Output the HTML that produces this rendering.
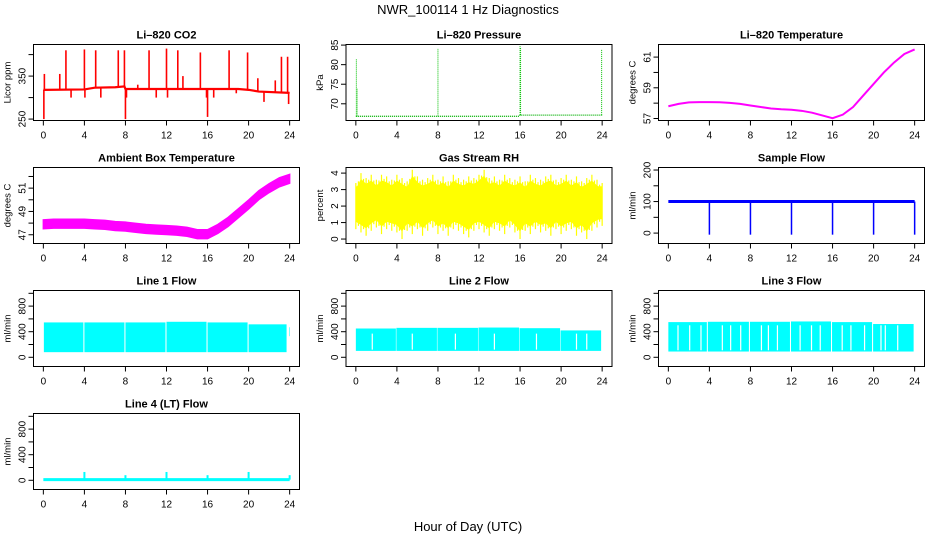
<!DOCTYPE html>
<html><head><meta charset="utf-8">
<style>
html,body{margin:0;padding:0;background:#fff;}
svg{display:block;font-family:"Liberation Sans",Arial,sans-serif;}
</style></head>
<body>
<svg id="chart" width="936" height="540" viewBox="0 0 936 540">
<text x="468" y="14" text-anchor="middle" font-size="13">NWR_100114  1 Hz Diagnostics</text>
<text x="468" y="531" text-anchor="middle" font-size="13">Hour of Day (UTC)</text>
</svg>
<script>
// ---- data arrays ----
const xTicks = [0,4,8,12,16,20,24];
const hourly = [0,1,2,3,4,5,6,7,8,9,10,11,12,13,14,15,16,17,18,19,20,21,22,23,24];
// CO2
const co2BaseHours = [0,4,5,7,7.9,8,12,16,19,20,21,24];
const co2BaseVals  = [318,319,323,324,326,320,320,320,320,318,314,311];
const co2SpikeHours = [0.05,0.1,1.6,2.2,2.7,4.0,4.05,5.1,5.6,7.3,7.9,8.0,8.1,9.2,10.3,11.0,12.0,12.1,13.1,13.6,15.3,15.9,16.0,16.6,18.1,18.8,19.9,20.9,21.5,22.6,23.2,23.8,23.9];
const co2SpikeVals  = [250,355,355,410,300,412,300,410,300,410,410,250,300,330,410,300,414,300,410,350,405,300,255,300,410,310,405,345,290,340,395,395,285];
// Pressure
const presBaseHours = [0,15.9,16,24];
const presBaseVals  = [66.8,66.8,67.1,67.1];
const presSpikeHours = [0.05,0.12,8.0,16.0,16.05,23.95];
const presSpikeVals  = [81.5,74.0,84.2,84.7,84.3,84.0];
// Li-820 temperature (hourly)
const liTemp = [57.8,57.95,58.05,58.07,58.07,58.06,58.02,57.95,57.85,57.75,57.65,57.6,57.57,57.5,57.38,57.2,57.02,57.25,57.75,58.5,59.25,60.0,60.65,61.2,61.5];
// Ambient box temperature (hourly centre)
const ambTemp = [47.9,47.95,47.95,47.95,47.95,47.9,47.85,47.75,47.7,47.6,47.5,47.45,47.4,47.35,47.25,47.05,47.05,47.5,48.1,48.85,49.6,50.4,51.0,51.5,51.8];
// Gas stream RH half-hourly envelopes
const rhHi = [3.4,4.0,3.7,3.9,3.6,3.9,3.8,3.6,3.9,3.7,3.5,4.2,3.8,3.6,3.7,3.9,3.6,3.8,3.5,3.9,3.7,3.6,3.8,3.7,3.9,4.2,3.7,3.8,3.6,3.9,3.7,3.6,3.8,3.5,3.9,3.7,3.6,3.8,3.9,3.6,3.7,3.9,3.6,3.8,3.5,3.7,3.9,3.6,3.4];
const rhLo = [0.6,0.4,0.2,0.5,0.7,0.3,0.6,0.5,0.4,0.0,0.5,0.3,0.6,0.2,0.5,0.7,0.3,0.5,0.2,0.6,0.5,0.3,0.1,0.5,0.6,0.4,0.2,0.6,0.5,0.3,0.7,0.4,0.0,0.5,0.3,0.6,0.4,0.5,0.2,0.6,0.3,0.5,0.6,0.2,0.4,0.0,0.5,0.7,0.8];
const rhCoreHi = 3.2, rhCoreLo = 1.2;
// Sample flow
const sfLevel = 100;
const sfDropHours = [4,8,12,16,20,24];
const sfDropVals = [-5,-5,-5,-5,-5,-5];
// Line flows: band segments [start,end] hours with hi/lo
const l1Starts = [0.05,4.0,8.0,12.0,16.0,20.0,23.95];
const l1Ends   = [3.9,7.9,11.9,15.9,19.9,23.7,24.0];
const l1Hi     = [545,545,545,555,545,515,470];
const l1Lo     = [80,80,80,80,80,80,330];
const l2Starts = [0.0,3.95,7.95,11.95,15.95,19.95];
const l2Ends   = [3.9,7.9,11.9,15.9,19.9,23.9];
const l2Hi     = [450,460,460,465,455,420];
const l2Lo     = [100,100,100,100,100,100];
const l2Gaps   = [1.6,5.5,9.7,13.5,17.6,21.5,22.5];
const l3Starts = [0.0,3.85,7.95,11.95,15.95,19.95];
const l3Ends   = [3.75,7.85,11.85,15.85,19.85,23.9];
const l3Hi     = [550,555,555,560,550,520];
const l3Lo     = [90,90,90,90,90,90];
const l3Gaps   = [0.94,2.08,3.18,5.26,6.07,7.05,9.07,9.75,10.63,12.84,13.95,14.8,16.94,17.79,19.12,20.72,21.14,22.35];
const l4Base = 10;
const l4SpikeHours = [4.0,8.0,12.0,16.0,20.0,24.0];
const l4SpikeVals  = [130,80,130,80,130,80];

// ---- layout ----
const svg = document.getElementById('chart');
const NS = 'http://www.w3.org/2000/svg';
const colX = [33.5,346,658.5], rowY = [44.5,167.5,290.5,413.5], PW = 266, PH = 76;
function el(tag, attrs, parent){ const e=document.createElementNS(NS,tag); for(const k in attrs) e.setAttribute(k,attrs[k]); (parent||svg).appendChild(e); return e; }

function panel(key, col, row, title, ylab, ylo, yhi, yTicks, yLabels){
  const g = el('g',{});
  
  
  const L=colX[col], T=rowY[row];
  const xs = h => L + PW*(h+0.96)/25.92;
  const ys = v => T + PH*(yhi-v)/(yhi-ylo);
  const t = el('text',{x:L+PW/2,y:T-6,'text-anchor':'middle','font-size':11,'font-weight':'bold'},g);
  t.textContent = title;
  
  
  const yl = el('text',{transform:`translate(${L-23},${T+PH/2}) rotate(-90)`,'text-anchor':'middle','font-size':9.5},g);
  yl.textContent = ylab;
  
  
  const xa = el('g',{},g);
  
  
  el('line',{x1:xs(0),x2:xs(24),y1:T+PH,y2:T+PH,stroke:'#000'},xa);
  xTicks.forEach(h=>{
    el('line',{x1:xs(h),x2:xs(h),y1:T+PH,y2:T+PH+5,stroke:'#000'},xa);
    const tx = el('text',{x:xs(h),y:T+PH+18,'text-anchor':'middle','font-size':10},xa);
    tx.textContent = h;
  });
  const ya = el('g',{},g);
  
  
  yTicks.forEach(v=>{
    el('line',{x1:L-5,x2:L,y1:ys(v),y2:ys(v),stroke:'#000'},ya);
  });
  yLabels.forEach(v=>{
    const ty = el('text',{transform:`translate(${L-8},${ys(v)}) rotate(-90)`,'text-anchor':'middle','font-size':10},ya);
    ty.textContent = v;
  });
  const plot = el('g',{},g);
  
  
  el('rect',{x:L,y:T,width:PW,height:PH,fill:'none',stroke:'#000','stroke-width':1},g);
  return {xs,ys,plot};
}
function polyline(p, pts, color, w){ return el('polyline',{points:pts.map(a=>a.join(',')).join(' '),fill:'none',stroke:color,'stroke-width':w},p.plot); }
function vline(p,h,v1,v2,color,w){ return el('line',{x1:p.xs(h),x2:p.xs(h),y1:p.ys(v1),y2:p.ys(v2),stroke:color,'stroke-width':w},p.plot); }
function band(p,h1,h2,lo,hi,color){ return el('rect',{x:p.xs(h1),y:p.ys(hi),width:p.xs(h2)-p.xs(h1),height:p.ys(lo)-p.ys(hi),fill:color},p.plot); }
function interp(hs,vs,h){ for(let i=0;i<hs.length-1;i++){ if(h<=hs[i+1]) return vs[i]+(vs[i+1]-vs[i])*(h-hs[i])/(hs[i+1]-hs[i]); } return vs[vs.length-1]; }

// CO2
let p = panel('co2',0,0,'Li\u2013820 CO2','Licor ppm',246.7,423.5,[250,300,350,400],[250,350]);
polyline(p, co2BaseHours.map((h,i)=>[p.xs(h),p.ys(co2BaseVals[i])]), '#ff0000', 2.2);
co2SpikeHours.forEach((h,i)=>{ vline(p,h,interp(co2BaseHours,co2BaseVals,h),co2SpikeVals[i],'#ff0000',1.6); });

// Pressure
p = panel('pressure',1,0,'Li\u2013820 Pressure','kPa',65.73,85.15,[70,75,80,85],[70,75,80,85]);
polyline(p, presBaseHours.map((h,i)=>[p.xs(h),p.ys(presBaseVals[i])]), '#00b000', 1.3).setAttribute('stroke-dasharray','1,1');
presSpikeHours.forEach((h,i)=>{ vline(p,h,interp(presBaseHours,presBaseVals,h),presSpikeVals[i],'#00c000',1).setAttribute('stroke-dasharray','1,1'); });

// Li-820 temperature
p = panel('li-temp',2,0,'Li\u2013820 Temperature','degrees C',56.87,61.82,[57,58,59,60,61],[57,59,61]);
polyline(p, hourly.map((h,i)=>[p.xs(h),p.ys(liTemp[i])]), '#ff00ff', 2);

// Ambient temperature
p = panel('ambient-temp',0,1,'Ambient Box Temperature','degrees C',46.25,52.77,[47,48,49,50,51,52],[47,49,51]);
{
  const up = hourly.map((h,i)=>[p.xs(h),p.ys(ambTemp[i]+0.38)]);
  const dn = hourly.map((h,i)=>[p.xs(h),p.ys(ambTemp[i]-0.38)]).reverse();
  el('polygon',{points:up.concat(dn).map(a=>a.join(',')).join(' '),fill:'#ff00ff',stroke:'#ff00ff','stroke-width':1.5},p.plot);
}

// RH
p = panel('rh',1,1,'Gas Stream RH','percent',-0.27,4.34,[0,1,2,3,4],[0,1,2,3,4]);
band(p,0,24,rhCoreLo,rhCoreHi,'#ffff00');
rhHi.forEach((v,i)=>{ const h=i*0.5; vline(p,Math.min(h,24),rhLo[i],v,'#ffff00',1.2); if(i<rhHi.length-1){ vline(p,h+0.25,(rhLo[i]+rhLo[i+1])/2+0.3,(v+rhHi[i+1])/2-0.2,'#ffff00',1.2);} });
{
  const up=[], dn=[];
  rhHi.forEach((v,i)=>{ const h=i*0.5; up.push([p.xs(h),p.ys(v-0.35)]); });
  rhLo.forEach((v,i)=>{ const h=i*0.5; dn.push([p.xs(h),p.ys(v+0.45)]); });
  el('polygon',{points:up.concat(dn.reverse()).map(a=>a.join(',')).join(' '),fill:'#ffff00'},p.plot);
}

// Sample flow
p = panel('sample-flow',2,1,'Sample Flow','ml/min',-33,208,[0,50,100,150,200],[0,100,200]);
polyline(p, [[p.xs(0),p.ys(sfLevel)],[p.xs(24),p.ys(sfLevel)]], '#0000ff', 3);
sfDropHours.forEach((h,i)=>{ vline(p,h,sfLevel,sfDropVals[i],'#0000ff',1.5); });

// Line flows
function lineFlow(key,col,row,title,starts,ends,hi,lo,gaps,gapTop){
  const q = panel(key,col,row,title,'ml/min',-144,1044,[0,200,400,600,800,1000],[0,400,800]);
  starts.forEach((s,i)=>{ band(q,s,ends[i],lo[i],hi[i],'#00ffff'); });
  (gaps||[]).forEach(h=>{ vline(q,h,lo[0]+20,gapTop,'#ffffff',1.2); });
  return q;
}
lineFlow('line1-flow',0,2,'Line 1 Flow',l1Starts,l1Ends,l1Hi,l1Lo,[],0);
lineFlow('line2-flow',1,2,'Line 2 Flow',l2Starts,l2Ends,l2Hi,l2Lo,l2Gaps,370);
lineFlow('line3-flow',2,2,'Line 3 Flow',l3Starts,l3Ends,l3Hi,l3Lo,l3Gaps,500);

p = panel('line4-flow',0,3,'Line 4 (LT) Flow','ml/min',-144,1044,[0,200,400,600,800,1000],[0,400,800]);
polyline(p, [[p.xs(0),p.ys(l4Base)],[p.xs(24),p.ys(l4Base)]], '#00ffff', 3);
l4SpikeHours.forEach((h,i)=>{ vline(p,h,l4Base,l4SpikeVals[i],'#00ffff',2); });
</script>
</body></html>
